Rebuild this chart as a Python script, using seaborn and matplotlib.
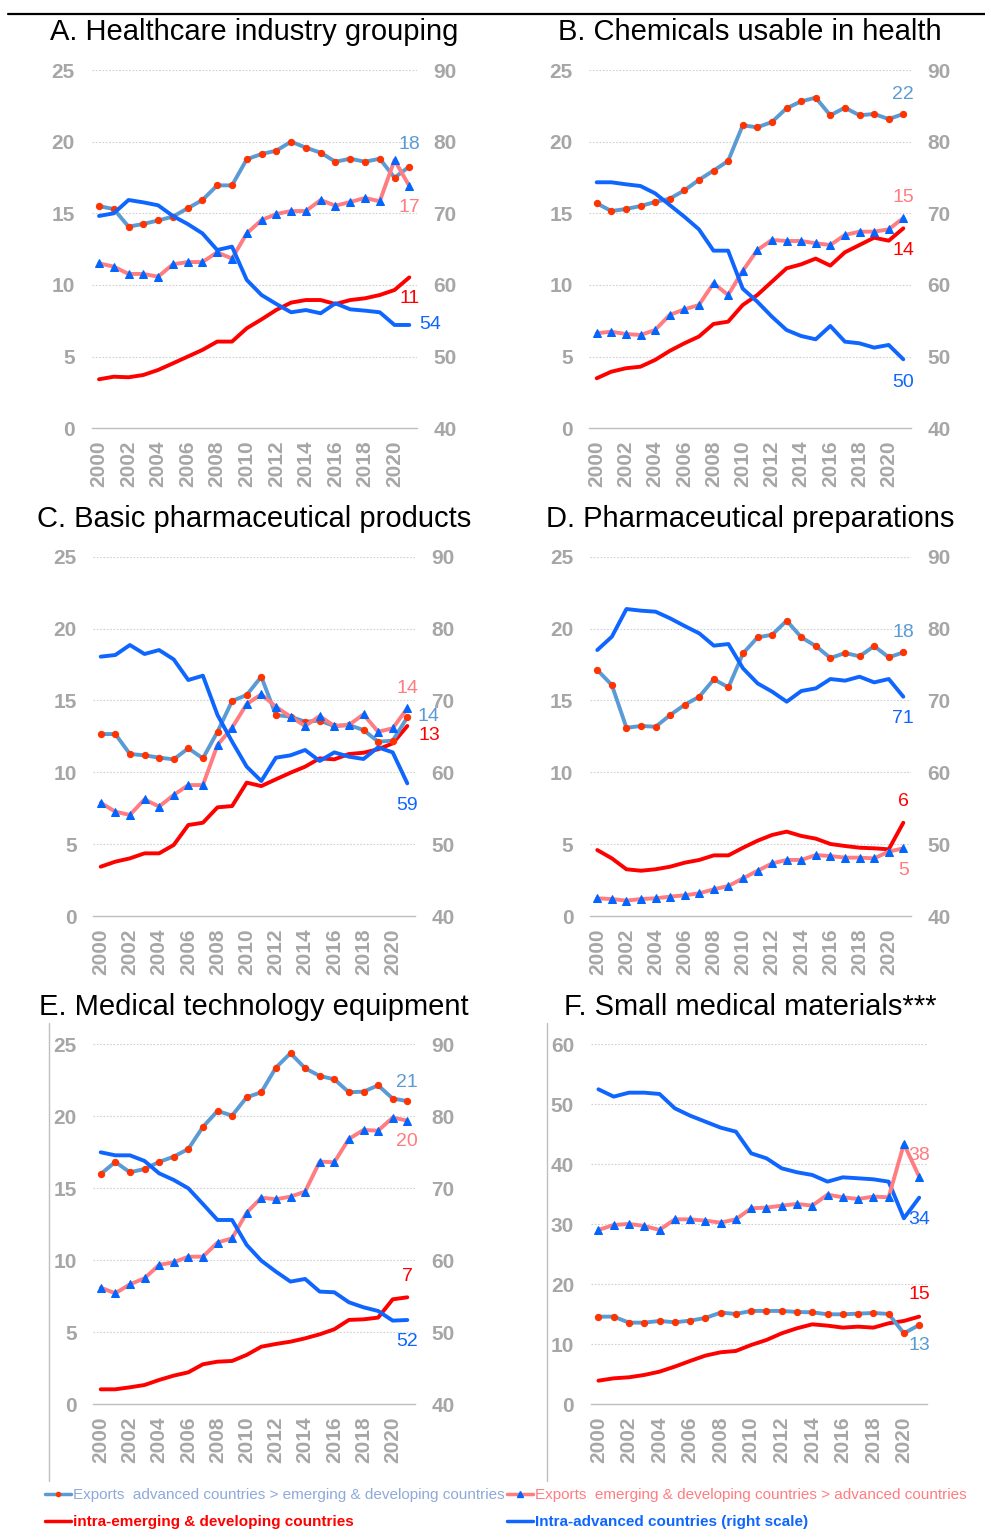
import matplotlib
matplotlib.use("Agg")
import matplotlib.pyplot as plt
from matplotlib.lines import Line2D
import seaborn as sns

years = list(range(2000, 2022))

# A. Healthcare industry grouping
a_adv_to_em = [15.5, 15.3, 14.07, 14.26, 14.5, 14.77, 15.35, 15.93, 16.95, 16.95, 18.77,
               19.14, 19.37, 20.0, 19.58, 19.23, 18.6, 18.81, 18.6, 18.81, 17.49, 18.26]
a_em_to_adv = [11.51, 11.28, 10.77, 10.77, 10.58, 11.44, 11.6, 11.6, 12.28, 11.84, 13.6,
               14.53, 14.95, 15.16, 15.16, 15.93, 15.53, 15.79, 16.07, 15.84, 18.72, 16.9]
a_intra_em = [3.42, 3.6, 3.56, 3.72, 4.07, 4.53, 5.0, 5.47, 6.05, 6.05, 6.98,
              7.6, 8.26, 8.77, 8.95, 8.95, 8.67, 8.95, 9.07, 9.3, 9.65, 10.53]
a_intra_adv = [69.63, 70.0, 71.86, 71.53, 71.12, 69.63, 68.51, 67.2, 64.88, 65.35, 60.7,
               58.6, 57.35, 56.19, 56.5, 56.05, 57.44, 56.6, 56.42, 56.19, 54.42, 54.42]
a_labels = ["18", "17", "11", "54"]

# B. Chemicals usable in health
b_adv_to_em = [15.7, 15.16, 15.3, 15.51, 15.79, 16.02, 16.6, 17.33, 17.98, 18.65, 21.14,
               21.0, 21.37, 22.33, 22.81, 23.07, 21.84, 22.37, 21.84, 21.93, 21.58, 21.93]
b_em_to_adv = [6.63, 6.74, 6.58, 6.51, 6.86, 7.91, 8.3, 8.6, 10.12, 9.3, 10.98,
               12.44, 13.14, 13.07, 13.07, 12.91, 12.79, 13.49, 13.72, 13.72, 13.88, 14.67]
b_intra_em = [3.49, 3.95, 4.19, 4.3, 4.77, 5.4, 5.93, 6.4, 7.28, 7.44, 8.6,
              9.3, 10.23, 11.16, 11.44, 11.84, 11.35, 12.28, 12.79, 13.3, 13.09, 13.95]
b_intra_adv = [74.33, 74.33, 74.05, 73.81, 72.79, 71.16, 69.53, 67.77, 64.79, 64.79, 59.49,
               57.67, 55.58, 53.72, 52.88, 52.42, 54.28, 52.09, 51.86, 51.26, 51.63, 49.63]
b_labels = ["22", "15", "14", "50"]

# C. Basic pharmaceutical products
c_adv_to_em = [12.66, 12.66, 11.27, 11.18, 11.02, 10.9, 11.67, 10.97, 12.82, 14.96, 15.38,
               16.65, 13.98, 13.87, 13.52, 13.59, 13.22, 13.29, 12.94, 12.13, 12.2, 13.82]
c_em_to_adv = [7.88, 7.26, 7.03, 8.12, 7.61, 8.42, 9.11, 9.11, 11.9, 13.1, 14.75,
               15.42, 14.56, 13.87, 13.22, 13.91, 13.22, 13.29, 14.03, 12.82, 13.06, 14.45]
c_intra_em = [3.43, 3.78, 4.01, 4.36, 4.36, 4.94, 6.33, 6.49, 7.56, 7.65, 9.28,
              9.04, 9.51, 9.97, 10.39, 10.97, 10.9, 11.27, 11.36, 11.6, 12.01, 13.22]
c_intra_adv = [76.09, 76.32, 77.71, 76.46, 77.01, 75.71, 72.84, 73.44, 67.97, 64.26, 60.78,
               58.78, 62.03, 62.36, 63.1, 61.57, 62.77, 62.17, 61.85, 63.47, 62.77, 58.46]
c_labels = ["14", "14", "13", "59"]

# D. Pharmaceutical preparations
d_adv_to_em = [17.12, 16.07, 13.1, 13.22, 13.17, 13.98, 14.7, 15.26, 16.47, 15.91, 18.27,
               19.39, 19.57, 20.55, 19.39, 18.78, 17.95, 18.3, 18.07, 18.78, 18.0, 18.34]
d_em_to_adv = [1.23, 1.18, 1.07, 1.18, 1.23, 1.35, 1.44, 1.58, 1.86, 2.09, 2.62,
               3.15, 3.66, 3.9, 3.9, 4.24, 4.17, 4.06, 4.06, 4.01, 4.48, 4.71]
d_intra_em = [4.59, 4.01, 3.25, 3.15, 3.25, 3.43, 3.71, 3.9, 4.22, 4.22, 4.75,
              5.24, 5.64, 5.87, 5.57, 5.38, 5.01, 4.87, 4.75, 4.71, 4.64, 6.49]
d_intra_adv = [77.01, 78.87, 82.72, 82.49, 82.35, 81.42, 80.35, 79.33, 77.62, 77.85, 74.46,
               72.37, 71.22, 69.82, 71.31, 71.68, 72.98, 72.75, 73.3, 72.51, 72.98, 70.52]
d_labels = ["18", "5", "6", "71"]

# E. Medical technology equipment
e_adv_to_em = [15.99, 16.83, 16.11, 16.34, 16.83, 17.2, 17.73, 19.26, 20.37, 20.05, 21.32,
               21.67, 23.38, 24.38, 23.34, 22.8, 22.57, 21.67, 21.71, 22.15, 21.23, 21.06]
e_em_to_adv = [8.1, 7.71, 8.33, 8.75, 9.68, 9.86, 10.25, 10.25, 11.23, 11.53, 13.31,
               14.35, 14.24, 14.42, 14.77, 16.85, 16.81, 18.43, 19.05, 19.0, 19.91, 19.7]
e_intra_em = [1.04, 1.04, 1.18, 1.34, 1.69, 1.99, 2.22, 2.78, 2.96, 3.01, 3.43,
              4.0, 4.19, 4.35, 4.58, 4.86, 5.21, 5.86, 5.9, 6.02, 7.29, 7.43]
e_intra_adv = [75.0, 74.58, 74.58, 73.8, 72.08, 71.16, 70.0, 67.82, 65.6, 65.6, 62.13,
               59.95, 58.43, 57.04, 57.41, 55.65, 55.56, 54.17, 53.47, 52.96, 51.62, 51.71]
e_labels = ["21", "20", "7", "52"]

# F. Small medical materials (single scale)
f_adv_to_em = [14.61, 14.61, 13.61, 13.61, 13.89, 13.67, 13.94, 14.39, 15.28, 15.06, 15.56,
               15.56, 15.56, 15.39, 15.33, 15.0, 15.0, 15.11, 15.22, 15.06, 11.83, 13.22]
f_em_to_adv = [29.06, 29.89, 30.06, 29.72, 29.06, 30.83, 30.83, 30.61, 30.28, 30.83, 32.67,
               32.78, 33.11, 33.39, 33.11, 34.94, 34.5, 34.22, 34.61, 34.5, 43.39, 37.94]
f_intra_em = [3.94, 4.33, 4.5, 4.89, 5.44, 6.28, 7.22, 8.11, 8.67, 8.89, 9.89,
              10.72, 11.83, 12.67, 13.33, 13.11, 12.78, 12.94, 12.78, 13.5, 13.89, 14.61]
f_intra_adv = [52.5, 51.28, 51.94, 51.94, 51.72, 49.33, 48.11, 47.11, 46.11, 45.44, 41.83,
               41.0, 39.33, 38.67, 38.22, 37.11, 37.83, 37.67, 37.5, 37.11, 31.0, 34.44]
f_labels = ["13", "38", "15", "34"]

titles = ["A. Healthcare industry grouping", "B. Chemicals usable in health",
          "C. Basic pharmaceutical products", "D. Pharmaceutical preparations",
          "E. Medical technology equipment", "F. Small medical materials***"]

legend_labels = ["Exports  advanced countries > emerging & developing countries",
                 "Exports  emerging & developing countries > advanced countries",
                 "intra-emerging & developing countries",
                 "Intra-advanced countries (right scale)"]

STEEL = "#5B9BD5"
DOT = "#FF3300"
PINK = "#FF7C80"
TRI = "#0066FF"
RED = "#FF0000"
BLUE = "#0F66FF"
GRAY = "#A6A6A6"

sns.set_style("white")
FONT = ["Liberation Sans", "DejaVu Sans"]
plt.rcParams["font.family"] = FONT

W, H = 985, 1530
fig = plt.figure(figsize=(W / 100, H / 100), dpi=100)


def box(l, r, t, b):
    return [l / W, 1 - b / H, (r - l) / W, (b - t) / H]


boxes = [box(91.6, 416.7, 70, 428.3), box(589.4, 910.6, 70, 428.3),
         box(93.4, 414.6, 556.7, 916), box(590.0, 910.6, 556.7, 916),
         box(93.4, 414.6, 1044.3, 1404.3), box(590.8, 926.8, 1044.3, 1404.3)]
title_pos = [(254, 32), (750, 32), (254, 519), (750, 519), (254, 1007), (750, 1007)]

panels = [
    (a_adv_to_em, a_em_to_adv, a_intra_em, a_intra_adv, a_labels),
    (b_adv_to_em, b_em_to_adv, b_intra_em, b_intra_adv, b_labels),
    (c_adv_to_em, c_em_to_adv, c_intra_em, c_intra_adv, c_labels),
    (d_adv_to_em, d_em_to_adv, d_intra_em, d_intra_adv, d_labels),
    (e_adv_to_em, e_em_to_adv, e_intra_em, e_intra_adv, e_labels),
    (f_adv_to_em, f_em_to_adv, f_intra_em, f_intra_adv, f_labels),
]

# label offsets from the last point, in pixels (adv>em, em>adv, intra-em, intra-adv)
offsets = [
    [(0, 22), (0, -21), (0, -21), (21, 0)],
    [(0, 19), (0, 21), (0, -22), (0, -23)],
    [(21, 1), (0, 20), (22, -9), (0, -22)],
    [(0, 20), (0, -22), (0, 21), (0, -22)],
    [(0, 19), (0, -21), (0, 21), (0, -22)],
    [(0, -21), (0, 21), (0, 22), (0, -22)],
]
lab_colors = [STEEL, PINK, RED, BLUE]


def style_x(ax):
    ax.set_xlim(1999.5, 2021.5)
    ax.set_xticks(range(2000, 2021, 2))
    ax.set_xticks([y - 0.5 for y in range(2000, 2023)], minor=True)
    ax.tick_params(axis="x", which="major", length=0, pad=9, rotation=90,
                   labelsize=15, labelcolor=GRAY)
    ax.tick_params(axis="x", which="minor", length=4.5, width=1, color="#BFBFBF",
                   direction="out")
    for t in ax.get_xticklabels():
        t.set_weight("bold")
    for s in ["top", "right", "left"]:
        ax.spines[s].set_visible(False)
    ax.spines["bottom"].set_color("#BFBFBF")
    ax.spines["bottom"].set_linewidth(1)


def style_y(ax):
    ax.tick_params(axis="y", length=0, pad=12, labelsize=15, labelcolor=GRAY)
    for t in ax.get_yticklabels():
        t.set_weight("bold")


for i, (s1, s2, s3, s4, labs) in enumerate(panels):
    ax = fig.add_axes(boxes[i])
    single = i == 5
    if single:
        ax.set_ylim(0, 60)
        ax.set_yticks(range(0, 61, 10))
    else:
        ax.set_ylim(0, 25)
        ax.set_yticks(range(0, 26, 5))
    for g in ax.get_yticks()[1:]:
        ax.axhline(g, color="#D0D0D0", lw=0.8, ls=(0, (1.5, 1.5)), zorder=0)

    sns.lineplot(x=years, y=s3, ax=ax, color=RED, linewidth=2.8)
    sns.lineplot(x=years, y=s1, ax=ax, color=STEEL, linewidth=2.8, marker="o",
                 markersize=4.5, markerfacecolor=DOT, markeredgecolor=DOT)
    sns.lineplot(x=years, y=s2, ax=ax, color=PINK, linewidth=2.8, marker="^",
                 markersize=6, markerfacecolor=TRI, markeredgecolor=TRI)
    style_x(ax)
    style_y(ax)
    ax.set_xlabel("")
    ax.set_ylabel("")

    if single:
        ax4 = ax
        sns.lineplot(x=years, y=s4, ax=ax, color=BLUE, linewidth=2.8)
        ax.lines[-1].set_zorder(1.9)
    else:
        ax4 = ax.twinx()
        ax4.set_ylim(40, 90)
        ax4.set_yticks(range(40, 91, 10))
        sns.lineplot(x=years, y=s4, ax=ax4, color=BLUE, linewidth=2.8)
        ax4.set_ylabel("")
        style_y(ax4)
        for s in ["top", "right", "left", "bottom"]:
            ax4.spines[s].set_visible(False)

    series = [(ax, s1), (ax, s2), (ax, s3), (ax4, s4)]
    for k, (axx, s) in enumerate(series):
        dx, dy = offsets[i][k]
        axx.annotate(labs[k], xy=(years[-1], s[-1]), xytext=(dx * 0.72, dy * 0.72),
                     textcoords="offset points", ha="center", va="center",
                     color=lab_colors[k], fontsize=14)

    fig.text(title_pos[i][0] / W, 1 - title_pos[i][1] / H, titles[i],
             ha="center", va="center", fontsize=21, color="black")

# decorations: top rule and thin separators in the bottom row
fig.add_artist(Line2D([8 / W, 1], [1 - 14 / H, 1 - 14 / H], color="black", lw=1.6))
for xv in [49, 547]:
    fig.add_artist(Line2D([xv / W, xv / W], [1 - 1023 / H, 1 - 1481 / H],
                          color="#BFBFBF", lw=1))

handles = [
    Line2D([], [], color=STEEL, lw=2.5, marker="o", markersize=3,
           markerfacecolor=DOT, markeredgecolor=DOT),
    Line2D([], [], color=RED, lw=2.5),
    Line2D([], [], color=PINK, lw=2.5, marker="^", markersize=4,
           markerfacecolor=TRI, markeredgecolor=TRI),
    Line2D([], [], color=BLUE, lw=2.5),
]
labels = [legend_labels[0], legend_labels[2], legend_labels[1], legend_labels[3]]
leg = fig.legend(handles, labels, loc="upper left", bbox_to_anchor=(45 / W, 1 - 1488 / H),
                 ncol=2, frameon=False, handlelength=1.7, handletextpad=0.15,
                 columnspacing=0.15, labelspacing=0.85, borderpad=0, borderaxespad=0,
                 prop={"size": 11}, numpoints=1)
text_colors = ["#8EA9DB", RED, PINK, BLUE]
weights = ["normal", "bold", "normal", "bold"]
for t, c, w in zip(leg.get_texts(), text_colors, weights):
    t.set_color(c)
    t.set_weight(w)

fig.savefig("out.png", dpi=100)
